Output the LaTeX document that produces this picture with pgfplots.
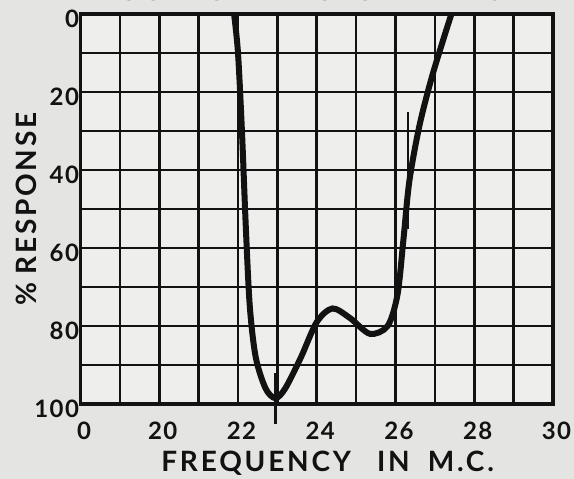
\documentclass[border=0pt]{standalone}
\usepackage{pgfplots}
\pgfplotsset{compat=1.18}
\usepackage{fontspec}
\setmainfont{Lato}
\definecolor{paper}{RGB}{228,228,226}
\definecolor{cell}{RGB}{238,238,236}
\definecolor{ink}{RGB}{18,18,18}
\begin{document}
\begin{tikzpicture}
\fill[paper] (-80.5pt,-75pt) rectangle (493.5pt,404pt);
\begin{axis}[
  at={(0,0)}, anchor=south west,
  width=472.5pt, height=390pt, scale only axis,
  xmin=18, xmax=30, ymin=0, ymax=100,
  y dir=reverse,
  clip=false,
  axis background/.style={fill=cell},
  axis line style={line width=3.4pt, draw=ink},
  xtick={18,20,22,24,26,28,30},
  xticklabels={0,20,22,24,26,28,30},
  minor xtick={19,21,23,25,27,29},
  ytick={0,20,40,60,80,100},
  minor ytick={10,30,50,70,90},
  grid=both,
  major grid style={line width=2.6pt, draw=ink},
  minor grid style={line width=2.6pt, draw=ink},
  major tick length=0pt, minor tick length=0pt,
  /pgf/number format/assume math mode=true,
  ticklabel style={font=\bfseries\fontsize{24}{26}\selectfont\addfontfeature{LetterSpace=6}, text=ink},
  xticklabel style={anchor=center, yshift=-27pt, xshift=3.5pt},
  yticklabel style={anchor=east, xshift=2pt, yshift=-5pt},
  xlabel={FREQUENCY\hspace{26pt}IN\hspace{18pt}M.C.},
  ylabel={\%\hspace{8pt}RESPONSE},
  label style={font=\bfseries\fontsize{28}{30}\selectfont\addfontfeature{LetterSpace=10}, text=ink},
  xlabel style={at={(axis description cs:0.523,-0.174)}, anchor=base},
  ylabel style={at={(axis description cs:-0.094,0.5)}, anchor=base},
]
\addplot[ink, line width=6pt, smooth, tension=0.5] coordinates {
(21.9,0) (22.0,10) (22.1,30) (22.2,55) (22.3,75) (22.45,88) (22.7,96)
(22.95,98.5) (23.2,96) (23.6,88) (24.0,79) (24.4,75.5) (24.85,78)
(25.35,82) (25.8,80) (26.05,72) (26.2,58) (26.35,43) (26.6,29)
(26.9,17) (27.2,7) (27.42,0)
};
\addplot[ink, line width=3pt] coordinates {(22.95,92) (22.95,105)};
\addplot[ink, line width=2.5pt] coordinates {(26.32,25) (26.32,55)};
\node[font=\bfseries\fontsize{28}{30}\selectfont\addfontfeature{LetterSpace=10}, text=ink, anchor=base]
  at (axis description cs:0.486,1.034) {OUTPUT\hspace{36pt}PICTURE\hspace{20pt}I-F'S};
\end{axis}
\pgfresetboundingbox
\path[use as bounding box] (-80.5pt,-75pt) rectangle (493.5pt,404pt);
\end{tikzpicture}
\end{document}
